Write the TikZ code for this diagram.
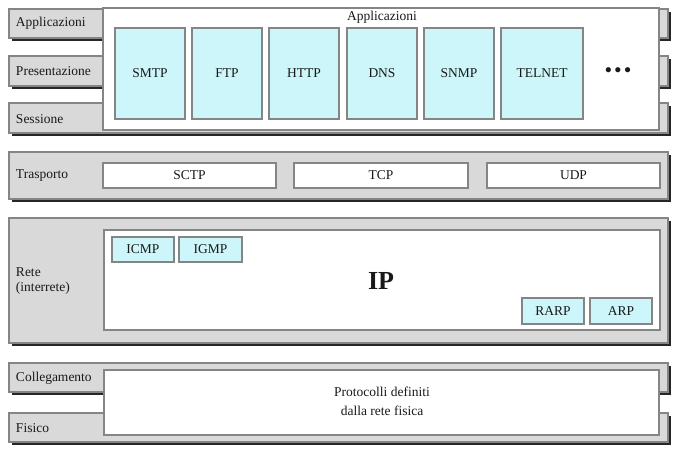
\documentclass[tikz,border=0pt]{standalone}
\usepackage{fontspec}
\setmainfont{Liberation Serif}
\usetikzlibrary{shadows}
\definecolor{barfill}{HTML}{D9D9D9}
\definecolor{edgec}{HTML}{858585}
\definecolor{cyanfill}{HTML}{CCF6FA}
\definecolor{shadowc}{HTML}{262626}
\begin{document}
\begin{tikzpicture}[x=1pt,y=-1pt,
  every node/.style={inner sep=0pt, outer sep=0pt, text=black!90, font=\fontsize{13.5}{15}\selectfont},
  layerbar/.style={draw=edgec, line width=1.2pt, fill=barfill, anchor=north west, minimum width=659pt,
    drop shadow={shadow xshift=3pt, shadow yshift=-3pt, fill=shadowc, opacity=1}},
  whitebox/.style={draw=edgec, line width=1.1pt, fill=white, anchor=north west},
  protobox/.style={draw=edgec, line width=1.1pt, fill=cyanfill, anchor=north west},
  lbl/.style={anchor=west, align=left},
]
\useasboundingbox[fill=white] (0,0) rectangle (677,451);

% layer bars
\node[layerbar, minimum height=29pt] (appbar) at (9,9) {};
\node[layerbar, minimum height=30pt] (presbar) at (9,56) {};
\node[layerbar, minimum height=30pt] (sessbar) at (9,103) {};
\node[layerbar, minimum height=47pt] (trbar) at (9,152) {};
\node[layerbar, minimum height=125pt] (retebar) at (9,218) {};
\node[layerbar, minimum height=29pt] (collbar) at (9,363) {};
\node[layerbar, minimum height=29pt] (fisbar) at (9,413) {};

% layer labels
\node[lbl] (lapp) at (16,23) {Applicazioni};
\node[lbl] (lpres) at (16,71) {Presentazione};
\node[lbl] (lsess) at (16,119) {Sessione};
\node[lbl] (ltr) at (16,176) {Trasporto};
\node[lbl] (lrete) at (16,281) {Rete\\(interrete)};
\node[lbl] (lcoll) at (16,378) {Collegamento};
\node[lbl] (lfis) at (16,428) {Fisico};

% application box
\node[whitebox, minimum width=556pt, minimum height=122pt] (appbox) at (103,8) {};
\node (apptitle) at (382,17) {Applicazioni};
\node[protobox, minimum width=70pt, minimum height=91pt] (smtp) at (115,28) {};
\node at (smtp.center) {SMTP};
\node[protobox, minimum width=70pt, minimum height=91pt] (ftp) at (192,28) {};
\node at (ftp.center) {FTP};
\node[protobox, minimum width=70pt, minimum height=91pt] (http) at (269,28) {};
\node at (http.center) {HTTP};
\node[protobox, minimum width=70pt, minimum height=91pt] (dns) at (347,28) {};
\node at (dns.center) {DNS};
\node[protobox, minimum width=70pt, minimum height=91pt] (snmp) at (424,28) {};
\node at (snmp.center) {SNMP};
\node[protobox, minimum width=82pt, minimum height=91pt] (telnet) at (501,28) {};
\node at (telnet.center) {TELNET};
\node[font=\fontsize{19}{19}\selectfont\bfseries] (dots) at (618,72) {\textbullet\hspace{3pt}\textbullet\hspace{3pt}\textbullet};

% transport
\node[whitebox, minimum width=173pt, minimum height=25pt] (sctp) at (103,163) {};
\node at (sctp.center) {SCTP};
\node[whitebox, minimum width=174pt, minimum height=25pt] (tcp) at (294,163) {};
\node at (tcp.center) {TCP};
\node[whitebox, minimum width=173pt, minimum height=25pt] (udp) at (487,163) {};
\node at (udp.center) {UDP};

% network
\node[whitebox, minimum width=556pt, minimum height=100pt] (ipbox) at (104,230) {};
\node[font=\fontsize{26}{28}\selectfont\bfseries] (ip) at (381,281) {IP};
\node[protobox, minimum width=62pt, minimum height=25pt] (icmp) at (112,237) {};
\node at (icmp.center) {ICMP};
\node[protobox, minimum width=63pt, minimum height=25pt] (igmp) at (179,237) {};
\node at (igmp.center) {IGMP};
\node[protobox, minimum width=62pt, minimum height=26pt] (rarp) at (522,298) {};
\node at (rarp.center) {RARP};
\node[protobox, minimum width=62pt, minimum height=26pt] (arp) at (590,298) {};
\node at (arp.center) {ARP};

% link / physical
\node[whitebox, minimum width=555pt, minimum height=65pt] (linkbox) at (104,370) {};
\node[align=center, font=\fontsize{13.5}{19}\selectfont] (linktext) at (382,401) {Protocolli definiti\\dalla rete fisica};
\end{tikzpicture}
\end{document}
